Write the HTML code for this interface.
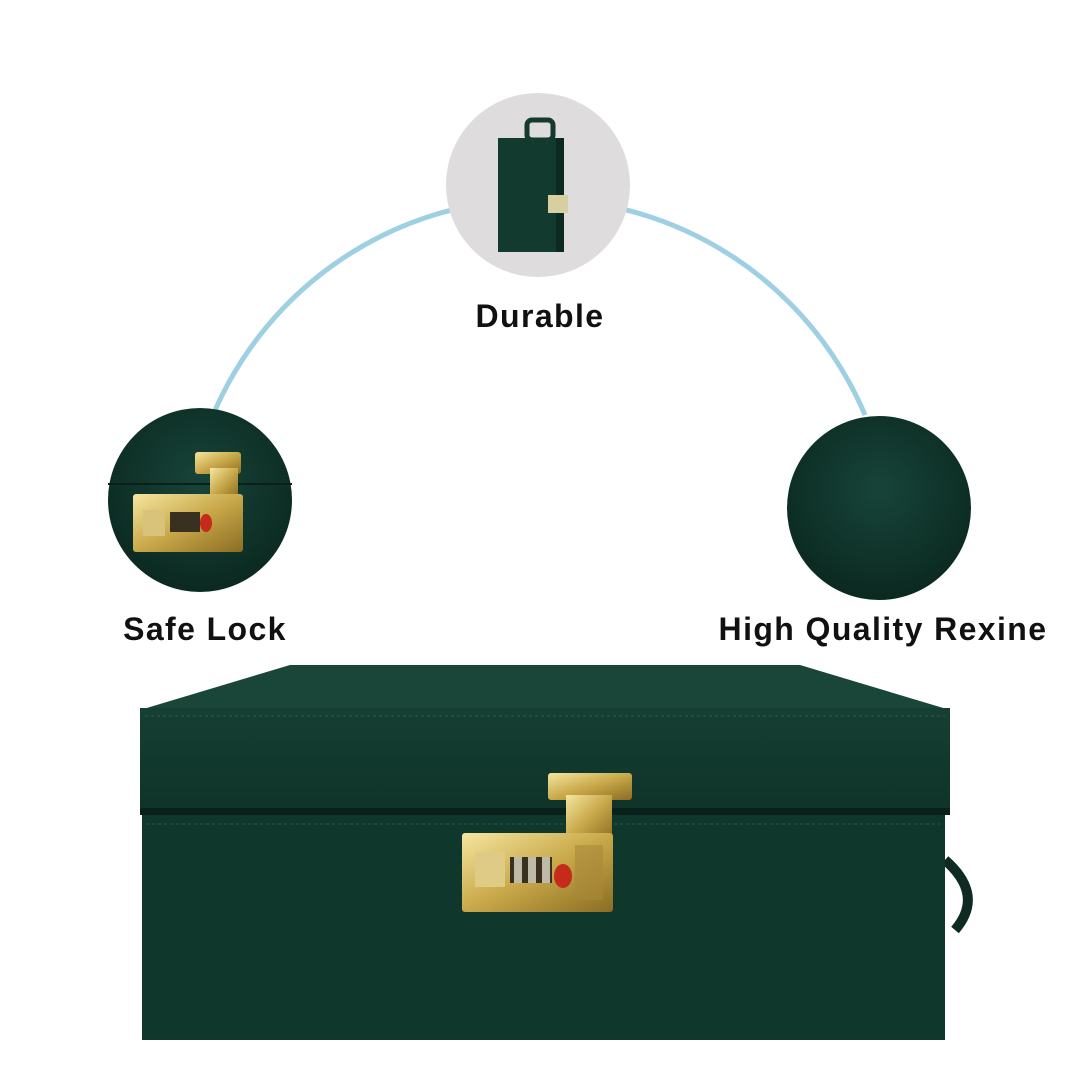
<!DOCTYPE html>
<html><head><meta charset="utf-8"><style>
html,body{margin:0;padding:0;background:#fff;}
body{width:1080px;height:1080px;position:relative;overflow:hidden;font-family:"Liberation Sans",sans-serif;}
.lbl{position:absolute;font-weight:bold;font-size:32px;color:#111;white-space:nowrap;transform:translateX(-50%);letter-spacing:1.4px;}
</style></head><body>
<svg width="1080" height="1080" style="position:absolute;left:0;top:0">
<defs>
<radialGradient id="g1" cx="50%" cy="40%" r="60%"><stop offset="0" stop-color="#17443a"/><stop offset="1" stop-color="#0b2920"/></radialGradient>
<linearGradient id="gold" x1="0" y1="0" x2="1" y2="1"><stop offset="0" stop-color="#f5e6a0"/><stop offset=".5" stop-color="#c9a94a"/><stop offset="1" stop-color="#8a6d22"/></linearGradient>
<linearGradient id="lid" x1="0" y1="0" x2="0" y2="1"><stop offset="0" stop-color="#163f34"/><stop offset="1" stop-color="#0f3329"/></linearGradient>
</defs>
<path d="M213 415 A354 354 0 0 1 865 415" fill="none" stroke="#9ed0e2" stroke-width="5"/>
<circle cx="538" cy="185" r="92" fill="#dedcdc"/>
<rect x="498" y="138" width="64" height="114" fill="#123a2f"/>
<rect x="556" y="138" width="8" height="114" fill="#0c2a22"/>
<rect x="527" y="120" width="26" height="20" rx="5" fill="none" stroke="#14392e" stroke-width="5"/>
<rect x="548" y="195" width="20" height="18" fill="#d8cfa0"/>
<circle cx="200" cy="500" r="92" fill="url(#g1)"/>
<line x1="108" y1="484" x2="292" y2="484" stroke="#0a2019" stroke-width="2"/>
<rect x="195" y="452" width="46" height="22" rx="3" fill="url(#gold)"/>
<rect x="210" y="468" width="28" height="30" fill="url(#gold)"/>
<rect x="133" y="494" width="110" height="58" rx="3" fill="url(#gold)"/>
<rect x="143" y="510" width="22" height="26" fill="#d9c27a"/>
<rect x="170" y="512" width="30" height="20" fill="#3a3020"/>
<ellipse cx="206" cy="523" rx="6" ry="9" fill="#c52a1a"/>
<circle cx="879" cy="508" r="92" fill="url(#g1)"/>
<polygon points="290,665 800,665 950,710 140,710" fill="#1a463a"/>
<rect x="140" y="708" width="810" height="102" fill="url(#lid)"/>
<line x1="145" y1="716" x2="945" y2="716" stroke="#2c5a4d" stroke-width="1" stroke-dasharray="3 3"/>
<rect x="140" y="808" width="810" height="7" fill="#0a211a"/>
<path d="M945 860 Q985 895 955 930" fill="none" stroke="#0e2a22" stroke-width="10"/>
<rect x="142" y="815" width="803" height="225" fill="#0f372c"/>
<line x1="146" y1="824" x2="940" y2="824" stroke="#2c5a4d" stroke-width="1" stroke-dasharray="3 3"/>
<rect x="548" y="773" width="84" height="27" rx="3" fill="url(#gold)"/>
<rect x="566" y="795" width="46" height="45" fill="url(#gold)"/>
<rect x="462" y="833" width="151" height="79" rx="3" fill="url(#gold)"/>
<rect x="475" y="852" width="30" height="35" fill="#e0cb86"/>
<rect x="510" y="857" width="42" height="26" fill="#3a3020"/>
<rect x="514" y="857" width="8" height="26" fill="#bfb9a8"/>
<rect x="528" y="857" width="8" height="26" fill="#bfb9a8"/>
<rect x="542" y="857" width="8" height="26" fill="#bfb9a8"/>
<ellipse cx="563" cy="876" rx="9" ry="12" fill="#c52a1a"/>
<rect x="575" y="845" width="28" height="55" fill="#a8893a" opacity=".6"/>
</svg>
<div class="lbl" style="left:540px;top:298px">Durable</div>
<div class="lbl" style="left:205px;top:611px">Safe Lock</div>
<div class="lbl" style="left:883px;top:611px">High Quality Rexine</div>
</body></html>
